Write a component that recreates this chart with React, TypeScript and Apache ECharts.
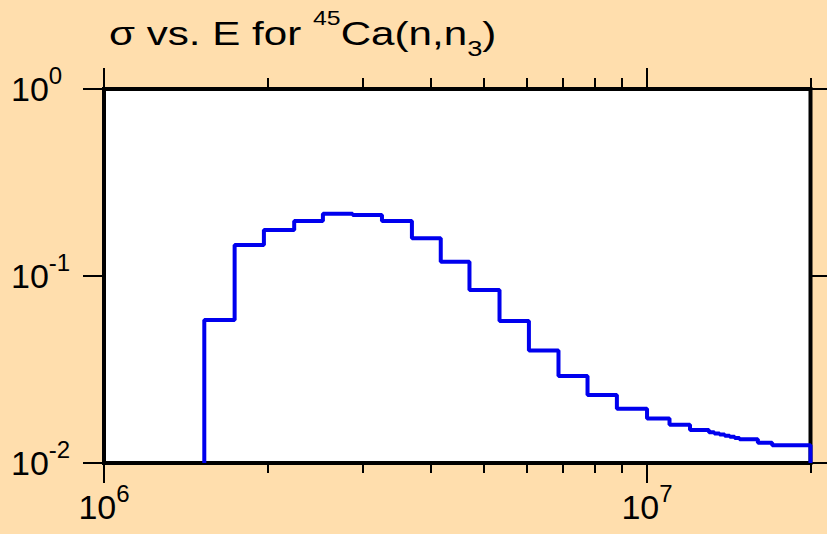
import React, { useEffect, useRef } from "react";
import * as echarts from "echarts";

// Bin edges (eV) of the step histogram
const binEdges = [
  1.53e6, 1.74e6, 1.97e6, 2.24e6, 2.53e6, 2.87e6, 3.25e6, 3.69e6, 4.17e6,
  4.71e6, 5.35e6, 6.06e6, 6.87e6, 7.77e6, 8.8e6, 1.0e7, 1.1e7, 1.2e7, 1.3e7,
  1.33e7, 1.36e7, 1.39e7, 1.42e7, 1.45e7, 1.48e7, 1.6e7, 1.7e7, 2.0e7,
];
// Cross section (barns) in each bin
const crossSections = [
  0.0582, 0.1465, 0.176, 0.197, 0.215, 0.212, 0.197, 0.159, 0.119, 0.0842,
  0.0574, 0.0399, 0.0292, 0.0231, 0.0195, 0.0173, 0.016, 0.015, 0.0146,
  0.0144, 0.0142, 0.014, 0.0138, 0.0136, 0.0134, 0.01285, 0.01244,
];

const xMajorTicks = [1e6, 1e7];
const xMinorTicks = [2e6, 3e6, 4e6, 5e6, 6e6, 7e6, 8e6, 9e6, 2e7];
const yMajorTicks = [1e-2, 1e-1, 1];
const xRange = [1e6, 2e7];
const yRange = [1e-2, 1];

const FONT = "Liberation Sans";

const powerLabel = (v: number) => {
  const e = Math.round(Math.log10(v));
  return `{b|10}{s|${e}}`;
};

const labelRich = {
  b: {
    fontSize: 34,
    lineHeight: 50,
    fontFamily: FONT,
    fontWeight: "normal",
    color: "#000",
  },
  s: {
    fontSize: 24,
    verticalAlign: "middle",
    padding: [0, 0, 27, 0],
    fontFamily: FONT,
    fontWeight: "normal",
    color: "#000",
  },
};

const tickStyle = { color: "#000", width: 2 };

function tickAxis(position: string, values: number[], length: number, isX: boolean) {
  return {
    type: "log",
    logBase: 10,
    min: isX ? xRange[0] : yRange[0],
    max: isX ? xRange[1] : yRange[1],
    position,
    axisLine: { show: false },
    splitLine: { show: false },
    axisTick: {
      show: true,
      inside: false,
      length,
      lineStyle: tickStyle,
      customValues: values,
    },
    axisLabel: { show: false },
  };
}

export default function App() {
  const ref = useRef<HTMLDivElement>(null);

  useEffect(() => {
    if (!ref.current) return;
    const chart = echarts.init(ref.current, undefined, { renderer: "svg" });

    const n = crossSections.length;
    const stepData: number[][] = [[binEdges[0], yRange[0]]];
    for (let i = 0; i < n; i++) stepData.push([binEdges[i], crossSections[i]]);
    stepData.push([binEdges[n], crossSections[n - 1]]);
    stepData.push([binEdges[n], yRange[0]]);

    const bottomMajor: any = tickAxis("bottom", xMajorTicks, 20, true);
    bottomMajor.axisLabel = {
      show: true,
      customValues: xMajorTicks,
      formatter: powerLabel,
      rich: labelRich,
      margin: 18,
    };

    const leftAxis: any = tickAxis("left", yMajorTicks, 21, false);
    leftAxis.axisLabel = {
      show: true,
      customValues: yMajorTicks,
      formatter: powerLabel,
      rich: labelRich,
      align: "left",
      margin: 93,
    };

    chart.setOption({
      animation: false,
      backgroundColor: "#FFDEAD",
      graphic: [
        {
          type: "text",
          x: 109,
          y: 8,
          scaleX: 1.24,
          scaleY: 1,
          z: 10,
          style: {
            text: "{m|σ vs. E for }{sup|45}{m|Ca(n,n}{sub|3}{m|)}",
            fontSize: 34,
            fontFamily: FONT,
            fill: "#000",
            rich: {
              m: {
                fontSize: 34,
                lineHeight: 48,
                fontFamily: FONT,
                fill: "#000",
              },
              sup: {
                fontSize: 20,
                verticalAlign: "middle",
                padding: [0, 0, 31, 0],
                fontFamily: FONT,
                fill: "#000",
              },
              sub: {
                fontSize: 22,
                verticalAlign: "middle",
                padding: [29, 0, 0, 0],
                fontFamily: FONT,
                fill: "#000",
              },
            },
          },
        },
      ],
      grid: {
        left: 104,
        right: 16.5,
        top: 89,
        bottom: 71,
        show: true,
        backgroundColor: "#fff",
        borderColor: "#000",
        borderWidth: 4,
        containLabel: false,
        outerBoundsMode: "none",
      },
      xAxis: [
        bottomMajor,
        tickAxis("bottom", xMinorTicks, 10, true),
        tickAxis("top", xMajorTicks, 21, true),
        tickAxis("top", xMinorTicks, 11, true),
      ],
      yAxis: [leftAxis, tickAxis("right", yMajorTicks, 20, false)],
      series: [
        {
          type: "line",
          xAxisIndex: 0,
          yAxisIndex: 0,
          step: "end",
          data: stepData,
          showSymbol: false,
          clip: false,
          lineStyle: { color: "#0000EE", width: 4 },
          z: 5,
        },
      ],
    });

    return () => chart.dispose();
  }, []);

  return (
    <div
      ref={ref}
      style={{ position: "fixed", left: 0, top: 0, width: 827, height: 534 }}
    />
  );
}
